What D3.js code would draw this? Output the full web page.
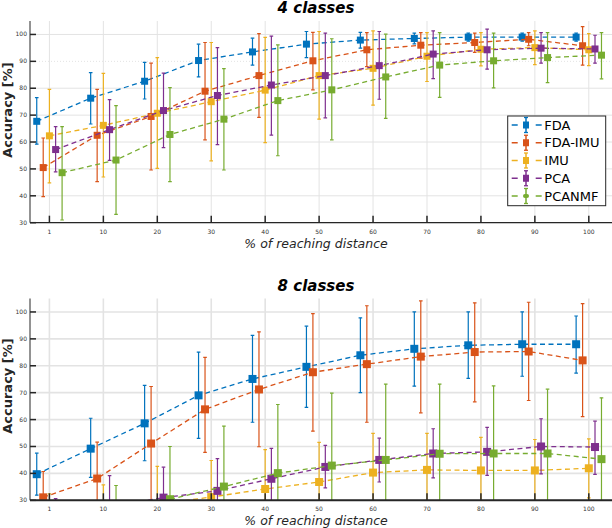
<!DOCTYPE html>
<html>
<head>
<meta charset="utf-8">
<script src="https://cdn.jsdelivr.net/npm/d3@7"></script>
<style>
  body { margin: 0; background: #fff; }
  svg { display: block; font-family: "DejaVu Sans", sans-serif; }
</style>
</head>
<body>
<script>
// x positions (reaching distance %), shown as equally spaced categories
const distances = ["1", "10", "20", "30", "40", "50", "60", "70", "80", "90", "100"];
const yTicks = [30, 40, 50, 60, 70, 80, 90, 100];
const seriesNames = ["FDA", "FDA-IMU", "IMU", "PCA", "PCANMF"];
const colors = ["#0072BD", "#D95319", "#EDB120", "#7E2F8E", "#77AC30"];

// ---- 4 classes ----
const fda4      = [67.7, 76.3, 82.6, 90.3, 93.5, 96.4, 97.9, 98.5, 99, 99, 99];
const fda4Hi    = [76.5, 85.8, 89.6, 96.4, 98.6, 101.1, 100.8, 100.5, 100.5, 100.5, 100.5];
const fda4Lo    = [59.2, 66.7, 76, 84.2, 88.6, 91.4, 94.9, 96.5, 97.5, 97.5, 97.5];
const fdaImu4   = [50.5, 62.5, 69.5, 78.9, 84.7, 90.2, 94.3, 96, 97, 98.2, 95.8];
const fdaImu4Hi = [61.5, 79.6, 89.3, 97, 100.3, 100.8, 100.7, 100.7, 100.5, 100.7, 102.9];
const fdaImu4Lo = [39.7, 45.3, 49.6, 60.8, 69.2, 79.4, 88, 91.2, 93.3, 95.8, 88.6];
const imu4      = [62.3, 66.2, 70.7, 75, 79.3, 84.7, 87.4, 91.9, 94.5, 95.1, 94.3];
const imu4Hi    = [79.6, 85.5, 91.4, 97, 98.9, 101.1, 101.3, 100.7, 100.7, 101.3, 100.3];
const imu4Lo    = [44.8, 47, 50.2, 53, 59.8, 68.5, 73.7, 82.5, 88.3, 88.8, 88.4];
const pca4      = [57.2, 64.6, 71.7, 77.3, 81.2, 84.7, 88.4, 92.7, 94.3, 94.9, 94.6];
const pca4Hi    = [65.7, 75.8, 85.6, 95.1, 99.4, 100.5, 101.1, 101.3, 102, 100.7, 99.7];
const pca4Lo    = [48.9, 53.2, 57.9, 59, 62.6, 69, 75.9, 83.6, 87.1, 89.3, 89.3];
const pcanmf4   = [48.6, 53.3, 62.8, 68.5, 75.4, 79.4, 84.2, 88.6, 90.2, 91.4, 92.3];
const pcanmf4Hi = [65.7, 73.5, 80.2, 87.3, 96.1, 98.4, 100.1, 100.7, 100.5, 100.7, 100.7];
const pcanmf4Lo = [31, 33.1, 45.3, 49.6, 54.9, 60.8, 68.8, 76.6, 80.1, 82.1, 83.5];

// ---- 8 classes ----
const fda8      = [39.7, 49.2, 58.6, 69, 75.1, 79.6, 83.9, 86.3, 87.6, 88, 88];
const fda8Hi    = [47.5, 60.5, 72.7, 85.1, 91.3, 94.7, 97.8, 100, 100, 100, 98.5];
const fda8Lo    = [31.9, 38.5, 44.7, 53, 59, 64.5, 70, 72.4, 75.3, 76.1, 77.3];
const fdaImu8   = [31.1, 38.1, 51.1, 63.8, 71.2, 77.6, 80.6, 83.4, 85.1, 85.3, 82];
const fdaImu8Hi = [40.7, 51.6, 72.3, 83.1, 92.6, 99.4, 102.3, 104.1, 103.4, 103.6, 103.1];
const fdaImu8Lo = [21.5, 24.6, 28, 47.8, 49.9, 55.7, 59, 62.5, 66.6, 67.1, 61.1];
const imu8      = [25, 26, 28.5, 31.2, 34.2, 36.8, 40.3, 41.3, 41.1, 41.1, 41.9];
const imu8Hi    = [32.4, 35.7, 42.6, 44.8, 48.8, 51.5, 54.9, 54.9, 53.4, 52.6, 52.8];
const imu8Lo    = [17.6, 16.3, 14.4, 17.6, 19.6, 22.1, 25.7, 27.7, 28.8, 29.6, 30.9];
const pca8      = [24, 27.5, 31, 33.5, 38, 42.4, 45, 47.4, 48, 50, 49.8];
const pca8Hi    = [30.6, 39.2, 42.3, 45.5, 49.3, 50.4, 53.1, 56.6, 57.1, 60.3, 59.4];
const pca8Lo    = [17.4, 15.8, 19.7, 21.5, 26.7, 34.6, 36.8, 38.3, 39.3, 39.8, 39.6];
const pcanmf8   = [22, 25, 30.4, 35.1, 40.1, 42.9, 45, 47.3, 47.4, 47.4, 45.3];
const pcanmf8Hi = [29, 35.5, 50, 57.6, 65.6, 69.8, 73.2, 73.2, 72.5, 71.3, 68.1];
const pcanmf8Lo = [15, 14.5, 10.8, 12.6, 14.6, 16, 16.8, 21.4, 22.3, 23.5, 22.5];

const W = 612, H = 528;
const offsets = [-0.235, -0.115, 0, 0.115, 0.235];

const svg = d3.select("body").append("svg")
  .attr("width", W)
  .attr("height", H);

function drawPanel(opt) {
  const top = opt.top, bottom = opt.bottom, left = 30, right = W;
  const x = d3.scaleLinear().domain([-0.36, 10.43]).range([left, right]);
  const y = d3.scaleLinear().domain([30, 105]).range([bottom, top]);
  const g = svg.append("g");

  // grid
  g.selectAll(".vgrid").data(distances).enter().append("line")
    .attr("x1", (d, i) => x(i)).attr("x2", (d, i) => x(i))
    .attr("y1", top).attr("y2", bottom)
    .attr("stroke", "#e3e3e3").attr("stroke-width", opt.gridW);
  g.selectAll(".hgrid").data(yTicks).enter().append("line")
    .attr("x1", left).attr("x2", right)
    .attr("y1", d => y(d)).attr("y2", d => y(d))
    .attr("stroke", "#e3e3e3").attr("stroke-width", opt.gridW)
    .attr("stroke-dasharray", d => (opt.dotted === d ? "1,2" : null));

  const clipId = "clip" + opt.id;
  svg.append("clipPath").attr("id", clipId).append("rect")
    .attr("x", left).attr("y", top).attr("width", right - left).attr("height", bottom - top);

  const plot = g.append("g").attr("clip-path", "url(#" + clipId + ")");

  opt.series.forEach((s, k) => {
    const pts = s.mean.map((v, i) => ({ xi: i + offsets[k], v: v, hi: s.hi[i], lo: s.lo[i] }));
    const sg = plot.append("g");
    sg.append("path")
      .datum(pts)
      .attr("fill", "none")
      .attr("stroke", colors[k])
      .attr("stroke-width", 1.3)
      .attr("stroke-dasharray", "5,3.5")
      .attr("d", d3.line().x(d => x(d.xi)).y(d => y(d.v)));
    sg.selectAll(".eb").data(pts).enter().append("line")
      .attr("x1", d => x(d.xi)).attr("x2", d => x(d.xi))
      .attr("y1", d => y(d.hi)).attr("y2", d => y(d.lo))
      .attr("stroke", colors[k]).attr("stroke-width", 1.2);
    ["hi", "lo"].forEach(key => {
      sg.selectAll(".cap" + key).data(pts).enter().append("line")
        .attr("x1", d => x(d.xi) - 1.8).attr("x2", d => x(d.xi) + 1.8)
        .attr("y1", d => y(d[key])).attr("y2", d => y(d[key]))
        .attr("stroke", colors[k]).attr("stroke-width", 1.2);
    });
    sg.selectAll(".mk").data(pts).enter().append("rect")
      .attr("x", d => x(d.xi) - opt.mk / 2)
      .attr("y", d => y(d.v) - opt.mk / 2)
      .attr("width", opt.mk).attr("height", opt.mk)
      .attr("fill", colors[k]);
  });

  // axes
  g.append("line").attr("x1", left).attr("x2", left).attr("y1", top).attr("y2", bottom)
    .attr("stroke", "#262626").attr("stroke-width", 1);
  g.append("line").attr("x1", left).attr("x2", right).attr("y1", bottom).attr("y2", bottom)
    .attr("stroke", "#262626").attr("stroke-width", opt.axisW);
  g.selectAll(".yt").data(yTicks).enter().append("line")
    .attr("x1", left).attr("x2", left + 6)
    .attr("y1", d => y(d)).attr("y2", d => y(d))
    .attr("stroke", "#262626").attr("stroke-width", 1.5);
  g.selectAll(".xt").data(distances).enter().append("line")
    .attr("x1", (d, i) => x(i)).attr("x2", (d, i) => x(i))
    .attr("y1", bottom).attr("y2", bottom - 7)
    .attr("stroke", "#262626").attr("stroke-width", 1.5);
  g.selectAll(".ytl").data(yTicks).enter().append("text")
    .attr("x", left - 3).attr("y", d => y(d) + 2)
    .attr("text-anchor", "end")
    .style("font-size", "6px").attr("fill", "#333")
    .text(d => d);
  g.selectAll(".xtl").data(distances).enter().append("text")
    .attr("x", (d, i) => x(i)).attr("y", bottom + 11)
    .attr("text-anchor", "middle")
    .style("font-size", "6px").attr("fill", "#333")
    .text(d => d);

  // titles and labels
  g.append("text")
    .attr("x", 316).attr("y", top - 8)
    .attr("text-anchor", "middle")
    .style("font-size", "15px").style("font-weight", "bold").style("font-style", "italic")
    .text(opt.title);
  g.append("text")
    .attr("x", 316).attr("y", bottom + 25)
    .attr("text-anchor", "middle")
    .style("font-size", "12.5px").style("font-style", "italic").attr("fill", "#262626")
    .text("% of reaching distance");
  g.append("text")
    .attr("transform", "translate(" + 11.5 + "," + opt.labelY + ") rotate(-90)")
    .attr("text-anchor", "middle")
    .style("font-size", "13px").style("font-weight", "bold").attr("fill", "#262626")
    .text("Accuracy [%]");
}

drawPanel({
  id: 4, top: 21, bottom: 222.7, title: "4 classes", labelY: 110, mk: 7, gridW: 1, axisW: 1.2, dotted: 90,
  series: [
    { mean: fda4, hi: fda4Hi, lo: fda4Lo },
    { mean: fdaImu4, hi: fdaImu4Hi, lo: fdaImu4Lo },
    { mean: imu4, hi: imu4Hi, lo: imu4Lo },
    { mean: pca4, hi: pca4Hi, lo: pca4Lo },
    { mean: pcanmf4, hi: pcanmf4Hi, lo: pcanmf4Lo }
  ]
});

drawPanel({
  id: 8, top: 298.5, bottom: 500.3, title: "8 classes", labelY: 386, mk: 8, gridW: 1.6, axisW: 2,
  series: [
    { mean: fda8, hi: fda8Hi, lo: fda8Lo },
    { mean: fdaImu8, hi: fdaImu8Hi, lo: fdaImu8Lo },
    { mean: imu8, hi: imu8Hi, lo: imu8Lo },
    { mean: pca8, hi: pca8Hi, lo: pca8Lo },
    { mean: pcanmf8, hi: pcanmf8Hi, lo: pcanmf8Lo }
  ]
});

// legend (top panel)
const legend = svg.append("g").attr("transform", "translate(507.7,116)");
legend.append("rect")
  .attr("width", 98).attr("height", 89.7)
  .attr("fill", "#fff").attr("stroke", "#262626").attr("stroke-width", 1);
const item = legend.selectAll(".item").data(seriesNames).enter().append("g")
  .attr("transform", (d, i) => "translate(0," + (9 + i * 17.75) + ")");
item.append("line")
  .attr("x1", 4).attr("x2", 34).attr("y1", 0).attr("y2", 0)
  .attr("stroke", (d, i) => colors[i]).attr("stroke-width", 1.3)
  .attr("stroke-dasharray", "6,18");
item.append("line")
  .attr("x1", 18.3).attr("x2", 18.3).attr("y1", -7.5).attr("y2", 7.5)
  .attr("stroke", (d, i) => colors[i]).attr("stroke-width", 1.5);
item.append("line")
  .attr("x1", 16.3).attr("x2", 20.3).attr("y1", -7.5).attr("y2", -7.5)
  .attr("stroke", (d, i) => colors[i]).attr("stroke-width", 1.3);
item.append("line")
  .attr("x1", 16.3).attr("x2", 20.3).attr("y1", 7.5).attr("y2", 7.5)
  .attr("stroke", (d, i) => colors[i]).attr("stroke-width", 1.3);
item.append("rect")
  .attr("x", 15.3).attr("y", d => (d === "PCANMF" ? -2 : -3.5))
  .attr("width", 6).attr("height", d => (d === "PCANMF" ? 4 : 7))
  .attr("rx", d => (d === "PCANMF" ? 2 : 0))
  .attr("fill", (d, i) => colors[i]);
item.append("text")
  .attr("x", 36.6).attr("y", 4.5)
  .style("font-size", "13px")
  .text(d => d);
</script>
</body>
</html>
